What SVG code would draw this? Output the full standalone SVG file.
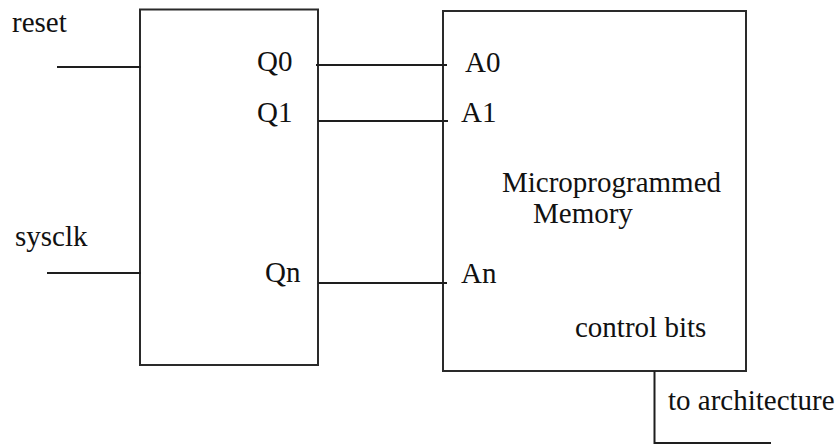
<svg xmlns="http://www.w3.org/2000/svg" width="840" height="445" viewBox="0 0 840 445">
<style>
.box{fill:none;stroke:#2a2a2a;stroke-width:2}
.wire{fill:none;stroke:#1e1e1e;stroke-width:2}
text{font-family:"Liberation Serif","Times New Roman",serif;font-size:29px;fill:#111}
</style>
<rect width="840" height="445" fill="#fff"/>
<g id="counter">
<rect class="box" x="140" y="9.5" width="178" height="355.5"/>
<text x="257" y="71">Q0</text>
<text x="257" y="122">Q1</text>
<text x="265" y="282">Qn</text>
</g>
<g id="memory">
<rect class="box" x="443" y="11" width="303" height="360"/>
<text x="465" y="72">A0</text>
<text x="461" y="122">A1</text>
<text x="461" y="283">An</text>
<text x="502" y="192">Microprogrammed</text>
<text x="533" y="223">Memory</text>
<text x="575" y="337">control bits</text>
</g>
<g id="labels">
<text x="12" y="32">reset</text>
<text x="15" y="246">sysclk</text>
<text x="668" y="410">to architecture</text>
</g>
<g id="connectors">
<line class="wire" x1="57" y1="67" x2="141" y2="67"/>
<line class="wire" x1="47" y1="273" x2="141" y2="273"/>
<line class="wire" x1="316" y1="65" x2="447" y2="65"/>
<line class="wire" x1="318" y1="121" x2="448" y2="121"/>
<line class="wire" x1="318" y1="283" x2="447" y2="283"/>
<polyline class="wire" points="654.5,371 654.5,443 771,443"/>
</g>
</svg>
